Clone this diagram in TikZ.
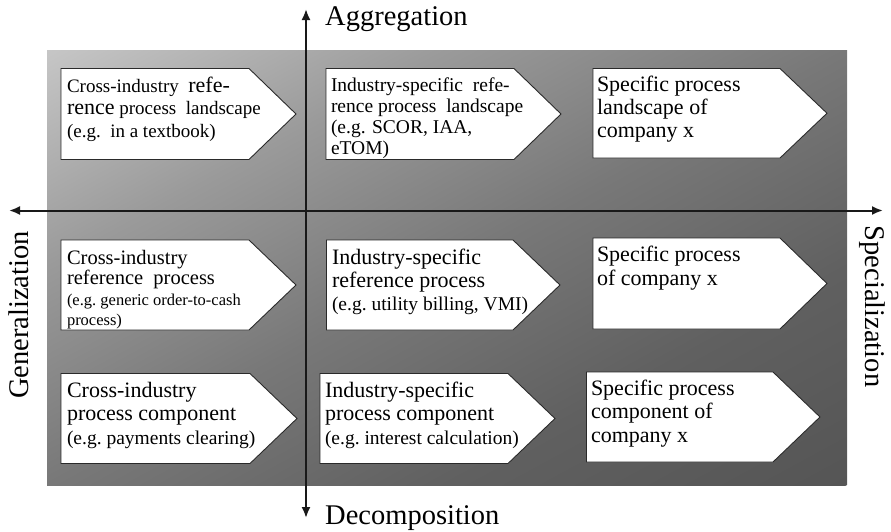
\documentclass[tikz,border=0pt]{standalone}
\usepackage{fontspec}
\setmainfont{Liberation Serif}
\usetikzlibrary{arrows.meta}
\definecolor{bgA}{HTML}{C6C6C6}
\definecolor{bgAB}{HTML}{9A9A9A}
\definecolor{bgB}{HTML}{787878}
\definecolor{bgBC}{HTML}{606060}
\definecolor{bgC}{HTML}{555555}
\definecolor{edge}{HTML}{2A2A2A}
\pgfdeclarehorizontalshading{bgshade}{100bp}{color(0bp)=(bgA); color(25bp)=(bgA);
  color(37.5bp)=(bgAB); color(50bp)=(bgB); color(62.5bp)=(bgBC); color(75bp)=(bgC); color(100bp)=(bgC)}
\newcommand\fsz[2]{\fontsize{#1}{#2}\selectfont}
\newcommand\chevbox[4]{% left, top, tip x, bottom
  \draw[boxline] (#1,#2) -- ({#3-47},#2) -- (#3,{(#2+#4)/2}) -- ({#3-47},#4) -- (#1,#4) -- cycle;}
\begin{document}
\begin{tikzpicture}[x=1pt,y=-1pt,
  boxline/.style={draw=edge,fill=white,line width=0.9pt,line join=miter},
  txt/.style={anchor=base west,inner sep=0pt,outer sep=0pt},
  axisline/.style={line width=2pt,draw=black!90,{Latex[length=11pt,width=9pt]}-{Latex[length=11pt,width=9pt]}},
  axlabel/.style={inner sep=0pt,font=\fsz{28.5}{30}}]
\useasboundingbox (0,0) rectangle (891,531);
% background: diagonal gradient, light top-left to dark bottom-right
\begin{scope}
  \clip (47,50) rectangle (847,485);
  \shade[shading=bgshade,
    transform canvas={rotate around={-61.5:(447,267.5)}}]
    (65,-232.5) rectangle (829,767.5);
\end{scope}
% axes
\coordinate (vt) at (306,9);
\coordinate (vb) at (306,518);
\coordinate (hl) at (9,210.5);
\coordinate (hr) at (883,210.5);
\draw[axisline] (vt) -- (vb);
\draw[axisline] (hl) -- (hr);
% axis labels
\node[axlabel,anchor=base west] (agg) at (325,25) {Aggregation};
\node[axlabel,anchor=base west] (dec) at (325,524) {Decomposition};
\node[axlabel,rotate=90,anchor=base] (gen) at (28,315) {Generalization};
\node[axlabel,rotate=-90,anchor=base] (spe) at (865,306.5) {Specialization};
% row 1
\chevbox{61}{68.5}{296}{159.5}
\node[txt] (b11) at (67,92) {\parbox[t]{228pt}{\fsz{19}{22.5}\lineskiplimit=-20pt
  Cross-industry\ \ {\fsz{22}{22.5}refe-}\\{\fsz{22}{22.5}rence} process\ \ landscape\\(e.g.\ \ in a textbook)}};
\chevbox{326}{68.5}{561}{159.5}
\node[txt] (b12) at (331,91) {\parbox[t]{228pt}{\fsz{19.5}{21}\lineskiplimit=-20pt
  Industry-specific\ \ refe-\\rence process\ \ landscape\\(e.g. SCOR, IAA,\\eTOM)}};
\chevbox{593}{68.5}{827}{158}
\node[txt] (b13) at (597,91) {\parbox[t]{228pt}{\fsz{22}{23}\lineskiplimit=-20pt
  Specific process\\landscape of\\company x}};
% row 2
\chevbox{61}{240}{296}{330}
\node[txt] (b21) at (67,264) {\parbox[t]{228pt}{\fsz{20.5}{20.5}\lineskiplimit=-20pt
  Cross-industry\\reference\ \ process\\{\fsz{16.5}{20.5}(e.g.\ generic\ order-to-cash\\process)}}};
\chevbox{326.5}{240}{560}{330}
\node[txt] (b22) at (332,264) {\parbox[t]{228pt}{\fsz{22}{23}\lineskiplimit=-20pt
  Industry-specific\\reference process\\{\fsz{19.5}{23}(e.g.\ utility billing, VMI)}}};
\chevbox{593}{238}{827}{329}
\node[txt] (b23) at (597,261) {\parbox[t]{228pt}{\fsz{22}{24}\lineskiplimit=-20pt
  Specific process\\of company x}};
% row 3
\chevbox{61}{373.5}{297}{463.5}
\node[txt] (b31) at (67,397) {\parbox[t]{228pt}{\fsz{22}{23.5}\lineskiplimit=-20pt
  Cross-industry\\process component\\{\fsz{19.5}{23.5}(e.g.\ payments\ clearing)}}};
\chevbox{320}{373.5}{555}{463.5}
\node[txt] (b32) at (325,397) {\parbox[t]{228pt}{\fsz{22}{23.5}\lineskiplimit=-20pt
  Industry-specific\\process component\\{\fsz{19.5}{23.5}(e.g.\ interest\ calculation)}}};
\chevbox{586.5}{372}{820}{462}
\node[txt] (b33) at (591,395) {\parbox[t]{228pt}{\fsz{22}{23.6}\lineskiplimit=-20pt
  Specific process\\component of\\company x}};
\end{tikzpicture}
\end{document}
